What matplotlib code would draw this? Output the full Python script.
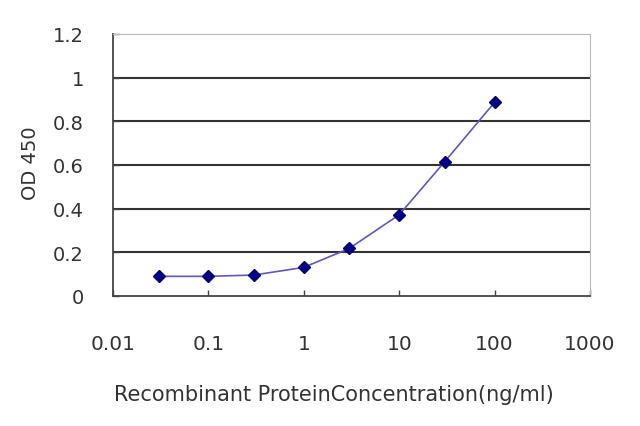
import matplotlib
matplotlib.use("Agg")
import matplotlib.pyplot as plt

conc = [0.03, 0.1, 0.3, 1, 3, 10, 30, 100]
od = [0.09, 0.09, 0.096, 0.131, 0.218, 0.372, 0.615, 0.887]
yticks = [0, 0.2, 0.4, 0.6, 0.8, 1, 1.2]
ytick_labels = ["0", "0.2", "0.4", "0.6", "0.8", "1", "1.2"]
xticks = [0.01, 0.1, 1, 10, 100, 1000]
xtick_labels = ["0.01", "0.1", "1", "10", "100", "1000"]

plt.rcParams['font.family'] = ['DejaVu Sans']

fig = plt.figure(figsize=(6.4, 4.27), dpi=100)
ax = fig.add_axes([113/640, 1 - 297/427, (590-113)/640, (297-35)/427])
ax.set_xscale('log')
ax.set_xlim(0.01, 1000)
ax.set_ylim(0, 1.2)
for y in yticks[1:-1]:
    ax.axhline(y, color='#333333', lw=1.5, zorder=1)
ax.plot(conc, od, color='#5a5ac0', lw=1.2, marker='D', markersize=6,
        markerfacecolor='#000080', markeredgecolor='#000080', zorder=3)
ax.set_yticks(yticks)
ax.set_yticklabels(ytick_labels, fontsize=14, color='#333333')
ax.set_xticks(xticks)
ax.set_xticklabels(xtick_labels, fontsize=14.5, color='#333333')
ax.minorticks_off()
ax.tick_params(axis='both', direction='in', length=4, width=1, color='#444444')
ax.tick_params(axis='y', pad=21)
ax.tick_params(axis='x', pad=27)
for s in ['top', 'right']:
    ax.spines[s].set_color('#bbbbbb')
for s in ['left', 'bottom']:
    ax.spines[s].set_color('#444444')
    ax.spines[s].set_linewidth(1.3)
ax.set_ylabel('OD 450', fontsize=14, color='#333333')
ax.yaxis.set_label_coords((30 - 113) / 477, (297 - 163) / 262)
ax.set_xlabel('Recombinant ProteinConcentration(ng/ml)', fontsize=15, color='#333333')
ax.xaxis.set_label_coords((334 - 113) / 477, -(395 - 297) / 262)
ax.xaxis.label.set_va('center')
ax.yaxis.label.set_va('center')
fig.savefig('out.png', dpi=100)
